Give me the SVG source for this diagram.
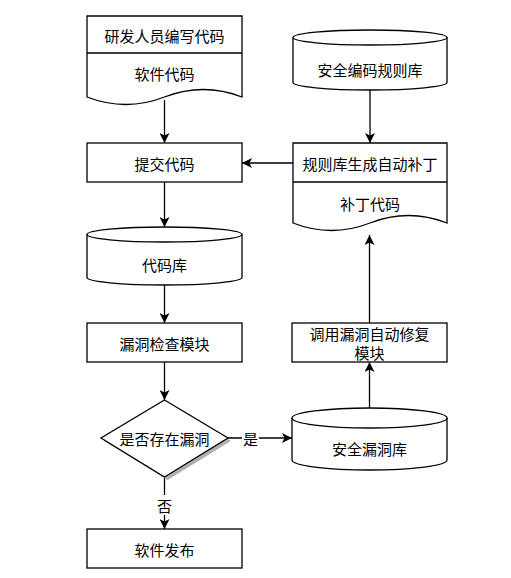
<svg xmlns="http://www.w3.org/2000/svg" width="511" height="578" viewBox="0 0 511 578">
<defs>
<style>
.s{fill:#fff;stroke:#000;stroke-width:1.3}
.n{fill:none;stroke:#000;stroke-width:1.3}
.t{font-family:"Noto Sans CJK SC","Noto Sans",sans-serif;font-size:15px;fill:#000;text-anchor:middle;dominant-baseline:central}
.c{fill:none;stroke:#000;stroke-width:1.3}
</style>
<marker id="a" viewBox="0 0 10 10" refX="10" refY="5" markerWidth="10" markerHeight="10" markerUnits="userSpaceOnUse" orient="auto">
<path d="M0,0 L10,5 L0,10 L2.5,5 Z" fill="#000"/>
</marker>
</defs>
<rect width="511" height="578" fill="#fff"/>

<g id="connectors">
<line class="c" x1="164.5" y1="100" x2="164.5" y2="143" marker-end="url(#a)"/>
<line class="c" x1="164.5" y1="182" x2="164.5" y2="227" marker-end="url(#a)"/>
<line class="c" x1="164.5" y1="285" x2="164.5" y2="323" marker-end="url(#a)"/>
<line class="c" x1="164.5" y1="362" x2="164.5" y2="400" marker-end="url(#a)"/>
<line class="c" x1="164.5" y1="477" x2="164.5" y2="529" marker-end="url(#a)"/>
<line class="c" x1="228" y1="438" x2="292" y2="438" marker-end="url(#a)"/>
<line class="c" x1="369.5" y1="408" x2="369.5" y2="362" marker-end="url(#a)"/>
<line class="c" x1="369.5" y1="323" x2="369.5" y2="235" marker-end="url(#a)"/>
<line class="c" x1="293" y1="163" x2="242" y2="163" marker-end="url(#a)"/>
<line class="c" x1="370" y1="90" x2="370" y2="143" marker-end="url(#a)"/>
<rect x="156" y="495" width="17" height="20" fill="#fff"/>
<text class="t" x="164.5" y="505">否</text>
<rect x="242" y="428" width="17" height="20" fill="#fff"/>
<text class="t" x="250.5" y="438">是</text>
</g>

<g id="doc1">
<path class="s" d="M87,16 H242 V97 Q203.5,82 164.5,97 Q126,112 87,97 Z"/>
<line class="n" x1="87" y1="53" x2="242" y2="53"/>
<text class="t" x="164.5" y="35">研发人员编写代码</text>
<text class="t" x="164.5" y="73">软件代码</text>
</g>

<g id="submit">
<rect class="s" x="87" y="143" width="155" height="39"/>
<text class="t" x="164.5" y="163">提交代码</text>
</g>

<g id="codebase">
<path class="s" d="M87,234.5 A77.5,7.5 0 0 1 242,234.5 V277.5 A77.5,7.5 0 0 1 87,277.5 Z"/>
<path class="n" d="M87,234.5 A77.5,7.5 0 0 0 242,234.5"/>
<text class="t" x="164.5" y="264">代码库</text>
</g>

<g id="check">
<rect class="s" x="87" y="323" width="155" height="39"/>
<text class="t" x="164.5" y="343">漏洞检查模块</text>
</g>

<g id="decision">
<polygon points="167.5,403 231,441 167.5,480 104,441" fill="#b0b0b0"/>
<polygon class="s" points="164.5,400 228,438 164.5,477 101,438"/>
<text class="t" x="164.5" y="438">是否存在漏洞</text>
</g>

<g id="release">
<rect class="s" x="87" y="529" width="155" height="39"/>
<text class="t" x="164.5" y="549">软件发布</text>
</g>

<g id="vulndb">
<path class="s" d="M292,418 A77.5,10 0 0 1 447,418 V460 A77.5,10 0 0 1 292,460 Z"/>
<path class="n" d="M292,418 A77.5,10 0 0 0 447,418"/>
<text class="t" x="369.5" y="448">安全漏洞库</text>
</g>

<g id="repair">
<rect class="s" x="292" y="323" width="155" height="39"/>
<text class="t" x="369.5" y="333">调用漏洞自动修复</text>
<text class="t" x="369.5" y="352">模块</text>
</g>

<g id="doc2">
<path class="s" d="M293,143 H447 V223 Q408.5,208 370,223 Q331.5,238 293,223 Z"/>
<line class="n" x1="293" y1="182" x2="447" y2="182"/>
<text class="t" x="370" y="163">规则库生成自动补丁</text>
<text class="t" x="370" y="203">补丁代码</text>
</g>

<g id="rules">
<path class="s" d="M293,37.5 A77,7.5 0 0 1 447,37.5 V82.5 A77,7.5 0 0 1 293,82.5 Z"/>
<path class="n" d="M293,37.5 A77,7.5 0 0 0 447,37.5"/>
<text class="t" x="370" y="69">安全编码规则库</text>
</g>
</svg>
